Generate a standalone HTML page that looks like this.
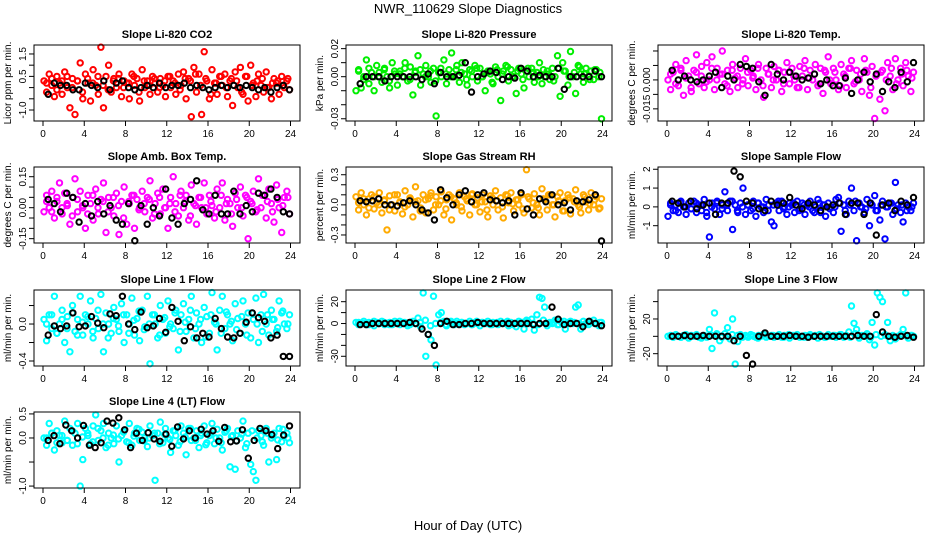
<!DOCTYPE html>
<html><head><meta charset="utf-8"><style>
body{margin:0;background:#fff;}
svg{display:block;font-family:"Liberation Sans",Arial,sans-serif;}
</style></head><body>
<svg id="c" width="936" height="540" viewBox="0 0 936 540">
<text x="468" y="13" text-anchor="middle" font-size="13">NWR_110629  Slope Diagnostics</text>
<text x="468" y="530" text-anchor="middle" font-size="13">Hour of Day (UTC)</text>
</svg>
<script>
const xTicks=[0,4,8,12,16,20,24];
const co2Col=[0.3,-0.2,0.6,0.1,-0.4,0.5,0.2,-0.3,0.7,0.0,-0.9,0.4,-1.2,0.3,1.1,-0.5,0.6,0.2,-0.6,0.8,0.1,-0.3,1.8,-0.9,0.5,1.0,-0.2,0.4,0.0,0.6,-0.4,0.3,0.2,-0.5,0.6,0.1,0.4,-0.6,0.8,0.0,0.3,-0.3,0.5,0.2,-0.2,0.4,0.1,-0.4,0.5,0.0,0.3,-0.3,0.6,0.1,0.7,-0.5,0.4,-1.3,0.9,-0.2,0.6,-1.2,1.6,0.3,-0.5,0.8,0.2,-0.3,0.5,0.1,0.6,-0.4,0.3,-0.8,0.7,0.0,0.9,-0.3,0.5,-0.6,1.0,0.2,-0.4,0.6,0.1,-0.2,0.7,0.0,-0.5,0.4,0.2,-0.3,0.5,0.0,0.3,-0.1];
const co2B=[0.2,0.4,-0.1,0.3,0.5,0.0,0.3,-0.2,0.4,0.2,0.5,0.1,-0.1,0.3,0.4,0.0,0.2,0.5,-0.2,0.3,0.1,0.4,0.0,0.3,0.5,0.2,-0.1,0.4,0.3,0.6,0.1,0.4,-0.3,0.2,0.5,0.0,0.4,0.3,-0.2,0.5,0.1,0.3,0.4,0.0,0.2,0.3,0.1,0.4];
const co2Blk=[-0.3,0.2,0.1,0.1,-0.1,-0.1,0.2,0.1,0.0,0.3,-0.1,0.2,0.3,0.0,-0.1,0.0,0.1,0.0,0.2,0.0,0.1,0.1,0.2,0.0,0.1,0.0,-0.1,0.0,0.1,0.0,0.1,0.0,0.1,0.0,-0.1,0.0,-0.2,0.0,0.1,-0.1];
const presCol=[-0.01,0.005,-0.008,0.0,0.012,-0.005,0.003,-0.01,0.008,0.0,-0.004,0.006,0.0,-0.008,0.01,0.002,-0.006,0.004,0.0,0.01,-0.003,0.007,-0.013,0.004,0.015,-0.006,0.002,0.008,0.0,-0.004,0.006,-0.028,0.003,0.0,0.012,-0.005,0.005,0.017,0.0,0.008,-0.004,0.01,0.002,-0.006,0.005,0.0,0.008,-0.003,0.006,0.0,-0.01,0.004,0.002,-0.005,0.007,0.0,-0.017,0.004,0.008,-0.003,0.005,0.0,-0.012,0.006,0.002,-0.008,0.004,0.0,0.006,-0.004,0.003,0.01,-0.005,0.0,0.004,-0.002,0.006,0.0,0.015,-0.014,0.01,0.004,-0.006,0.018,0.0,-0.012,0.008,0.002,-0.004,0.006,0.0,0.004,-0.002,0.005,0.0,-0.03];
const presB=[0.004,-0.002,0.006,0.0,0.003,0.005,-0.003,0.004,0.002,0.006,-0.002,0.003,0.005,0.0,0.004,-0.003,0.006,0.002,0.0,0.005,0.003,-0.002,0.004,0.006,0.0,0.003,-0.004,0.005,0.002,0.007,0.0,0.004,-0.002,0.006,0.003,0.0,0.005,0.002,-0.003,0.006,0.004,0.0,0.003,0.007,0.002,-0.002,0.005,0.003];
const presBlk=[-0.005,0.0,0.0,0.0,-0.003,0.0,0.0,0.0,0.0,0.0,-0.002,0.002,-0.005,0.003,0.0,0.0,0.001,0.01,-0.011,0.0,0.002,0.004,0.003,-0.002,0.0,-0.001,0.006,0.004,0.0,0.001,0.0,0.0,0.006,-0.009,0.0,0.0,0.0,0.0,0.004,0.0];
const tempCol=[0.0,-0.005,0.004,0.008,-0.003,0.006,-0.008,0.01,0.002,-0.006,0.005,0.013,-0.002,0.007,-0.004,0.009,0.0,0.012,-0.005,0.006,0.003,0.015,-0.002,0.005,-0.006,0.008,0.001,-0.004,0.006,0.0,0.011,-0.003,0.005,0.002,-0.005,0.008,0.0,-0.009,0.006,0.003,-0.004,0.007,0.0,0.005,-0.006,0.004,0.009,-0.002,0.006,0.0,-0.004,0.007,0.002,0.01,-0.005,0.005,0.0,0.008,-0.003,0.006,-0.007,0.004,0.012,-0.002,0.006,0.0,-0.005,0.008,0.003,-0.004,0.006,0.01,-0.002,0.005,0.0,-0.006,0.011,0.004,-0.008,0.007,-0.02,0.003,-0.01,0.005,-0.016,0.009,0.002,-0.005,0.011,0.0,0.006,-0.003,0.009,0.002,-0.006,0.004];
const tempB=[0.003,-0.002,0.005,0.001,-0.004,0.004,0.002,-0.001,0.006,0.0,0.003,-0.003,0.005,0.002,-0.002,0.004,0.001,0.006,-0.003,0.003,0.0,0.005,-0.002,0.004,0.002,-0.004,0.006,0.001,0.003,-0.002,0.005,0.0,0.004,-0.003,0.002,0.006,-0.001,0.003,0.005,-0.004,0.002,0.004,0.0,0.006,-0.002,0.003,0.005,0.001];
const tempBlk=[0.005,0.0,0.002,0.0,-0.001,0.0,0.002,0.004,-0.004,0.002,0.0,0.008,0.007,0.006,-0.001,-0.008,0.008,0.003,0.0,0.004,0.002,0.0,0.001,0.003,-0.002,0.0,-0.003,-0.003,0.001,-0.007,0.0,0.004,-0.001,0.003,-0.006,-0.001,-0.004,0.004,-0.001,0.009];
const ambCol=[-0.02,0.06,0.0,0.08,-0.05,0.03,0.12,-0.03,0.07,0.01,-0.08,0.05,0.14,-0.02,0.08,0.0,-0.1,0.06,0.02,-0.06,0.09,-0.03,0.04,0.12,-0.12,0.05,0.0,-0.04,0.07,-0.13,0.03,0.1,-0.08,0.02,0.06,-0.1,0.04,0.0,0.08,-0.02,0.05,0.13,-0.05,0.02,0.07,-0.03,0.09,0.0,-0.1,0.05,0.15,0.02,-0.04,0.08,0.0,0.06,-0.06,0.11,0.02,-0.08,0.05,0.0,0.12,-0.03,0.06,0.01,-0.05,0.09,0.0,0.12,-0.06,0.04,0.02,-0.09,0.07,0.0,0.1,-0.04,0.06,-0.15,0.03,0.08,-0.02,0.14,0.0,0.06,-0.05,0.09,0.02,-0.07,0.11,0.0,-0.12,0.05,0.08,-0.03];
const ambB=[0.03,-0.02,0.05,0.0,0.02,-0.04,0.04,0.01,-0.03,0.06,0.0,0.03,-0.02,0.05,0.01,-0.05,0.03,0.06,-0.01,0.02,0.04,-0.03,0.05,0.0,0.02,-0.02,0.06,0.03,-0.04,0.01,0.05,0.0,0.03,-0.02,0.06,0.02,-0.03,0.04,0.0,0.05,0.02,-0.01,0.06,0.03,-0.02,0.04,0.01,0.05];
const ambBlk=[0.04,0.02,-0.02,0.07,0.05,-0.07,0.02,-0.04,0.03,-0.03,0.01,-0.06,-0.08,0.02,-0.16,0.01,-0.08,0.0,-0.04,0.09,-0.05,-0.08,0.02,0.04,0.13,-0.01,-0.03,0.06,-0.03,-0.03,0.08,-0.03,0.01,-0.02,0.07,0.06,0.09,0.05,-0.02,-0.03];
const rhCol=[0.08,-0.05,0.12,0.0,-0.1,0.06,0.1,-0.04,0.02,0.12,-0.08,0.05,-0.25,0.09,0.0,-0.06,0.1,0.03,-0.09,0.14,0.0,0.06,-0.12,0.18,0.04,-0.03,0.1,-0.08,0.06,0.12,-0.05,0.08,0.0,0.13,-0.1,0.05,0.1,-0.15,0.06,0.0,0.12,-0.06,0.08,0.04,-0.1,0.11,0.0,0.07,-0.07,0.1,0.03,-0.12,0.09,0.0,0.14,-0.05,0.07,-0.13,0.1,0.02,0.12,-0.06,0.05,0.0,0.1,-0.08,0.35,0.06,-0.03,0.11,0.0,-0.1,0.16,0.05,-0.05,0.1,0.0,-0.12,0.08,0.12,-0.06,0.04,0.1,-0.09,0.06,0.15,0.0,-0.08,0.1,0.03,-0.05,0.12,0.0,0.08,-0.04,0.06];
const rhB=[0.02,0.06,-0.03,0.08,0.0,0.04,-0.05,0.1,0.02,-0.02,0.07,0.03,-0.06,0.05,0.09,0.0,0.04,-0.04,0.08,0.02,-0.02,0.06,0.1,0.0,0.03,-0.05,0.07,0.04,-0.02,0.09,0.01,0.05,-0.04,0.08,0.02,-0.03,0.06,0.1,0.0,0.04,-0.06,0.07,0.03,-0.02,0.08,0.01,0.05,-0.03];
const rhBlk=[0.04,0.03,0.04,0.06,0.0,0.0,-0.01,0.02,0.04,0.0,-0.05,-0.08,-0.15,0.15,0.07,0.0,0.1,0.14,0.03,0.1,0.12,0.05,0.04,0.02,0.04,-0.1,0.12,-0.04,-0.1,0.06,0.03,0.1,0.0,0.02,-0.05,0.04,0.03,0.05,0.1,-0.36];
const sampCol=[-0.5,0.2,-0.2,0.1,-0.3,0.3,0.0,-0.4,0.2,-0.1,0.3,-0.3,0.1,-0.2,0.4,-0.5,-1.6,0.2,-0.1,0.3,-0.4,0.1,0.8,-0.2,0.3,-1.2,0.1,-0.3,0.2,1.0,-0.4,0.1,-0.2,0.3,-0.5,0.2,0.0,-0.3,0.4,0.1,-0.8,-1.0,0.2,-0.2,0.3,0.0,-0.4,0.2,0.1,-0.3,0.3,-0.1,0.2,-0.4,0.1,0.3,-0.2,0.0,0.4,-0.3,0.1,-0.5,0.2,0.0,-0.3,0.4,0.5,-1.3,0.1,-0.4,0.3,1.0,-0.2,-1.8,0.2,0.0,-0.3,0.4,-1.0,0.1,0.6,-0.2,-0.7,0.3,-1.7,0.0,0.2,-0.4,1.3,0.1,-0.3,-0.8,0.2,0.0,-0.2,0.2];
const sampB=[0.1,-0.2,0.2,0.0,-0.1,0.2,0.1,-0.3,0.0,0.2,-0.1,0.1,0.3,-0.2,0.0,0.1,-0.1,0.2,0.0,-0.2,0.1,0.3,-0.1,0.0,0.2,-0.2,0.1,0.0,-0.3,0.2,0.1,-0.1,0.0,0.2,-0.2,0.1,0.3,0.0,-0.1,0.2,-0.2,0.1,0.0,0.2,-0.1,0.1,-0.2,0.0];
const sampBlk=[0.3,0.2,0.0,0.3,-0.1,0.1,0.2,-0.4,0.2,0.2,1.9,1.6,0.3,0.2,-0.1,-0.2,0.3,0.1,0.2,0.5,0.1,-0.1,0.2,0.1,-0.2,0.0,0.1,0.2,-0.4,0.2,0.2,-0.4,0.2,-1.5,0.1,0.2,-0.2,0.3,0.1,0.5];
const l1Col=[0.05,-0.18,0.1,-0.05,0.3,-0.1,0.0,0.15,-0.2,0.08,-0.3,0.2,-0.08,0.05,0.3,-0.12,0.1,0.0,0.25,-0.15,0.06,-0.05,0.32,-0.3,0.12,0.0,-0.1,0.18,0.05,-0.08,0.22,-0.2,0.1,0.0,0.28,-0.12,0.06,-0.18,0.15,-0.03,0.3,-0.43,0.1,0.0,-0.15,0.2,0.05,-0.1,0.25,0.0,-0.05,0.15,-0.28,0.1,0.22,-0.08,0.05,0.3,-0.15,0.12,0.0,-0.2,0.18,0.08,-0.1,0.34,0.02,-0.28,0.15,0.3,-0.05,0.1,0.0,-0.18,0.22,0.06,-0.1,0.25,0.0,0.12,-0.15,0.05,0.28,-0.2,0.1,0.32,0.0,-0.12,0.15,0.05,-0.08,0.25,0.12,0.0,-0.05,0.1];
const l1B=[0.0,0.1,-0.1,0.05,-0.05,0.12,-0.12,0.02,0.08,-0.08,0.15,0.0,-0.15,0.06,-0.02,0.1,-0.1,0.04,0.14,-0.06,0.0,0.1,-0.12,0.07,-0.03,0.12,-0.08,0.02,0.15,-0.05,0.05,-0.14,0.1,0.0,-0.1,0.13,0.03,-0.06,0.08,-0.12,0.12,0.0,-0.08,0.1,0.05,-0.04,0.14,0.0];
const l1Blk=[-0.12,-0.02,-0.05,-0.02,0.12,-0.03,-0.02,0.08,0.01,-0.04,0.11,0.09,0.3,0.0,-0.06,0.13,-0.04,-0.02,0.06,-0.09,0.18,0.03,-0.18,-0.03,-0.15,-0.1,-0.14,0.06,-0.05,-0.14,-0.15,-0.1,0.02,0.12,0.07,0.03,-0.15,-0.12,-0.35,-0.35];
const l2Col=[1,-1,0,2,-1,1,0,-2,1,0,2,-1,0,1,-1,2,0,-1,1,0,-2,1,2,0,5,-3,28,-30,-10,-15,25,-38,8,10,2,-2,1,0,-1,2,0,1,-1,0,2,-1,1,0,-2,1,0,2,-1,1,0,-1,2,0,1,-2,1,0,-3,2,1,-5,3,0,4,-6,8,24,23,15,-2,1,0,3,-1,2,0,-5,1,2,0,15,17,-5,2,0,-1,1,3,0,-2,1];
const l2B=[1,0,-1,2,0,1,-1,0,2,1,-1,0,1,3,-2,0,1,-1,2,0,1,0,-1,2,1,0,-1,1,0,2,-1,0,1,2,0,-1,3,0,1,-1,2,0,1,0,-1,2,0,1];
const l2Blk=[-1,-1,0,0,0,0,0,0,1,0,-5,-10,-20,0,2,-1,-1,0,0,1,0,0,0,0,0,0,0,0,-1,0,0,15,4,-1,0,0,-3,2,0,-2];
const l3Col=[0,1,-1,2,0,-1,1,0,-2,1,0,2,-1,0,1,-1,8,-14,27,2,-5,0,3,10,-3,20,-32,-6,2,0,1,-1,2,0,-1,1,0,2,-1,0,1,-1,0,2,-1,1,0,-2,1,0,2,-1,0,1,-1,2,0,1,-2,1,0,-1,2,0,1,-1,0,2,-1,1,5,35,15,8,-2,1,0,3,-4,16,-10,50,45,40,2,16,-5,1,-3,0,2,8,50,-2,1,0];
const l3B=[0,1,-1,2,0,1,-2,0,1,3,-1,0,2,1,-1,0,1,-2,2,0,1,0,-1,2,1,0,-1,1,0,2,-1,0,1,2,0,-1,3,0,1,-1,2,0,1,0,-1,2,0,1];
const l3Blk=[0,0,1,0,0,1,0,0,0,0,-5,0,-22,-32,0,4,0,0,0,1,0,0,-1,0,0,0,0,0,0,0,1,0,0,25,5,0,-1,0,1,-1];
const l4Col=[0.0,-0.15,0.3,0.1,-0.25,0.15,0.05,-0.1,0.35,-0.05,0.2,-0.15,0.1,0.3,-1.0,-0.45,0.2,0.05,-0.12,0.25,0.48,-0.05,0.15,0.3,-0.2,0.1,0.0,-0.12,0.25,-0.5,0.05,0.15,-0.08,0.3,-0.15,0.1,0.2,-0.05,0.12,0.0,-0.18,0.25,0.05,-0.88,0.1,0.33,-0.1,0.2,0.0,-0.3,0.15,0.05,-0.15,0.25,0.1,-0.35,0.2,-0.05,0.0,0.15,-0.2,0.1,0.25,-0.1,0.05,0.3,-0.12,0.18,0.0,-0.25,0.12,0.2,-0.6,0.05,-0.65,0.15,0.0,0.35,-0.2,0.1,-0.55,-0.7,-0.88,0.15,0.05,-0.15,0.2,-0.5,0.0,0.1,-0.45,0.2,-0.08,0.05,0.1,-0.1];
const l4B=[0.0,0.1,-0.1,0.05,-0.05,0.15,-0.12,0.02,0.1,-0.08,0.2,0.0,-0.15,0.06,-0.02,0.12,-0.1,0.04,0.18,-0.06,0.0,0.1,-0.12,0.07,-0.03,0.15,-0.08,0.02,0.2,-0.05,0.05,-0.14,0.1,0.0,-0.1,0.15,0.03,-0.06,0.08,-0.12,0.15,0.0,-0.08,0.1,0.05,-0.04,0.18,0.0];
const l4Blk=[-0.05,0.05,-0.12,0.27,0.15,0.0,0.26,-0.15,-0.2,-0.1,0.35,0.31,0.42,0.17,-0.2,0.1,-0.05,0.11,-0.02,-0.07,0.08,-0.17,0.23,-0.02,0.15,0.0,0.18,0.08,0.15,-0.07,0.22,-0.08,-0.06,0.17,-0.42,-0.05,0.2,0.15,0.07,-0.22,0.06,0.25];

const cols=[34,346,658], rows=[45,167,290,412], W=266, H=76;
const panels=[
 {n:'co2',t:'Slope Li-820 CO2',yl:'Licor ppm per min.',c:'#ff0000',r:0,k:0,ymin:-1.49,ymax:1.9,tv:[1.5,1,0.5,0,-0.5,-1],tl:['1.5','','0.5','','','-1.0'],col:co2Col,b:co2B,blk:co2Blk},
 {n:'pressure',t:'Slope Li-820 Pressure',yl:'kPa per min.',c:'#00ee00',r:0,k:1,ymin:-0.0316,ymax:0.0226,tv:[0.02,0.01,0,-0.01,-0.02,-0.03],tl:['0.02','','0.00','','','-0.03'],col:presCol,b:presB,blk:presBlk},
 {n:'temp',t:'Slope Li-820 Temp.',yl:'degrees C per min.',c:'#ff00ff',r:0,k:2,ymin:-0.0213,ymax:0.0181,tv:[0.015,0.0075,0,-0.0075,-0.015],tl:['','','0.000','','-0.015'],col:tempCol,b:tempB,blk:tempBlk},
 {n:'amb-box',t:'Slope Amb. Box Temp.',yl:'degrees C per min.',c:'#ff00ff',r:1,k:0,ymin:-0.171,ymax:0.197,tv:[0.15,0.1,0.05,0,-0.05,-0.1,-0.15],tl:['0.15','','','0.00','','','-0.15'],col:ambCol,b:ambB,blk:ambBlk},
 {n:'gas-rh',t:'Slope Gas Stream RH',yl:'percent per min.',c:'#ffaa00',r:1,k:1,ymin:-0.38,ymax:0.377,tv:[0.3,0.2,0.1,0,-0.1,-0.2,-0.3],tl:['0.3','','','0.0','','','-0.3'],col:rhCol,b:rhB,blk:rhBlk},
 {n:'sample-flow',t:'Slope Sample Flow',yl:'ml/min per min.',c:'#0000ff',r:1,k:2,ymin:-1.92,ymax:2.12,tv:[2,1,0,-1],tl:['2','1','0','-1'],col:sampCol,b:sampB,blk:sampBlk},
 {n:'line1',t:'Slope Line 1 Flow',yl:'ml/min per min.',c:'#00ffff',r:2,k:0,ymin:-0.454,ymax:0.368,tv:[0.2,0,-0.2,-0.4],tl:['','0.0','','-0.4'],col:l1Col,b:l1B,blk:l1Blk},
 {n:'line2',t:'Slope Line 2 Flow',yl:'ml/min per min.',c:'#00ffff',r:2,k:1,ymin:-38.9,ymax:30.7,tv:[20,10,0,-10,-20,-30],tl:['20','','0','','','-30'],col:l2Col,b:l2B,blk:l2Blk},
 {n:'line3',t:'Slope Line 3 Flow',yl:'ml/min per min.',c:'#00ffff',r:2,k:2,ymin:-34.2,ymax:53.4,tv:[40,20,0,-20],tl:['','20','','-20'],col:l3Col,b:l3B,blk:l3Blk},
 {n:'line4',t:'Slope Line 4 (LT) Flow',yl:'ml/min per min.',c:'#00ffff',r:3,k:0,ymin:-1.04,ymax:0.54,tv:[0.5,0,-0.5,-1],tl:['0.5','0.0','','-1.0'],col:l4Col,b:l4B,blk:l4Blk}
];
const svg=document.getElementById('c'), NS='http://www.w3.org/2000/svg';
function mk(tag,at,parent){const e=document.createElementNS(NS,tag);for(const k in at)e.setAttribute(k,at[k]);(parent||svg).appendChild(e);return e;}
panels.forEach(p=>{
 const L=cols[p.k],T=rows[p.r];
 const g=mk('g',{});
 
 
 const xs=v=>L+9+(v/24)*247.5;
 const ys=v=>T+H-(v-p.ymin)/(p.ymax-p.ymin)*H;
 const ti=mk('text',{x:L+W/2,y:T-7,'text-anchor':'middle','font-size':'11','font-weight':'bold'},g);ti.textContent=p.t;
 
 
 const yl=mk('text',{x:0,y:0,'text-anchor':'middle','font-size':'10',transform:`translate(${L-23},${T+H/2}) rotate(-90)`},g);yl.textContent=p.yl;
 
 
 const pts=mk('g',{},g);
 const drawPts=(arr,color,nm,x0,x1)=>{arr.forEach((v,i)=>{const x=x0+i*(x1-x0)/(arr.length-1);
   const c=mk('circle',{cx:xs(x).toFixed(1),cy:ys(v).toFixed(1),r:2.7,fill:'none',stroke:color,'stroke-width':2},pts);
   
   });};
 drawPts(p.col,p.c,'point',0.1,23.9);
 drawPts(p.b,p.c,'point',0.35,23.75);
 drawPts(p.blk,'#000','black-point',0.5,23.9);
 const box=mk('rect',{x:L,y:T,width:W,height:H,fill:'none',stroke:'#000','stroke-width':1},g);
 
 
 xTicks.forEach(v=>{mk('line',{x1:xs(v),x2:xs(v),y1:T+H,y2:T+H+5,stroke:'#000'},g);
   const t=mk('text',{x:xs(v),y:T+H+16,'text-anchor':'middle','font-size':'10'},g);t.textContent=v;
   
   });
 p.tv.forEach((v,i)=>{const y=ys(v);mk('line',{x1:L-5,x2:L,y1:y,y2:y,stroke:'#000'},g);
   if(p.tl[i]){const t=mk('text',{x:0,y:0,'text-anchor':'middle','font-size':'10',transform:`translate(${L-8},${y}) rotate(-90)`},g);t.textContent=p.tl[i];
   
   }});
});
</script>
</body></html>
